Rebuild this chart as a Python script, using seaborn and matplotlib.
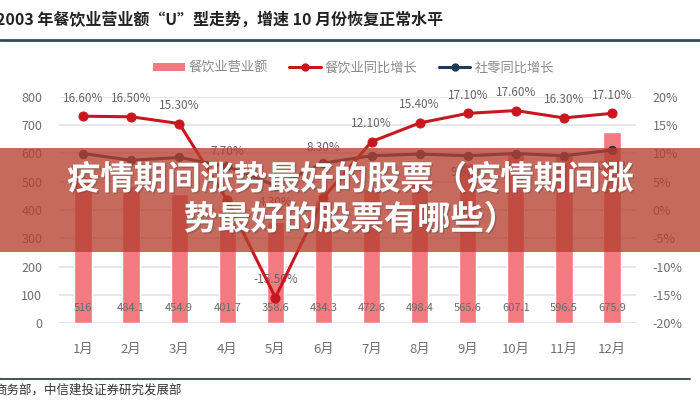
"""
2003 年餐饮业营业额与同比增速（柱 + 双折线），带横幅标题。
"""

import matplotlib
matplotlib.use("Agg")

import numpy as np
import matplotlib.pyplot as plt
import seaborn as sns
from matplotlib.lines import Line2D
from matplotlib.patches import Patch, Rectangle
from matplotlib import patheffects as pe

# ── 数据 ──────────────────────────────────────────────────────────
months = ["1月", "2月", "3月", "4月", "5月", "6月",
          "7月", "8月", "9月", "10月", "11月", "12月"]
revenue = [516, 484.1, 454.9, 401.7, 358.6, 434.3,
           472.6, 498.4, 565.6, 607.1, 596.5, 675.9]
food_growth = [16.6, 16.5, 15.3, 1.7, -15.5, 2.2,
               12.1, 15.4, 17.1, 17.6, 16.3, 17.1]
retail_growth = [10.0, 8.8, 9.3, 7.7, 4.3, 8.3,
                 9.6, 9.9, 9.6, 10.0, 9.6, 10.6]
# 被横幅遮住的标签不标
food_labels = ["16.60%", "16.50%", "15.30%", "", "-15.50%", "",
               "12.10%", "15.40%", "17.10%", "17.60%", "16.30%", "17.10%"]
retail_labels = ["", "", "", "7.70%", "4.30%", "8.30%",
                 "", "", "9.60%", "", "", "10.60%"]
retail_below = [False, False, False, False, True, False,
                False, False, True, False, False, True]

# ── 样式 ──────────────────────────────────────────────────────────
BAR = "#f47a82"
RED = "#c8171f"
NAVY = "#1f3a57"
GREY = "#6f6f6f"

sns.set_style("white")
plt.rcParams["font.family"] = ["Noto Sans CJK SC", "DejaVu Sans"]
plt.rcParams["axes.unicode_minus"] = False

fig = plt.figure(figsize=(7, 4), dpi=100)
fig.patch.set_facecolor("white")
ax = fig.add_axes([59 / 700, 77 / 400, 577 / 700, 226 / 400])

# 柱
sns.barplot(x=months, y=revenue, color=BAR, width=0.36, ax=ax,
            saturation=1, zorder=2)
ax.set_ylim(0, 800)
ax.set_xlim(-0.5, len(months) - 0.5)
ax.set_yticks(np.arange(0, 801, 100))
ax.yaxis.grid(True, color="#e3e3e3", linewidth=1.2, zorder=0)
ax.set_axisbelow(True)
ax.set_xlabel("")
ax.set_ylabel("")
ax.tick_params(axis="y", length=0, pad=12, labelsize=9, labelcolor=GREY)
ax.tick_params(axis="x", length=0, pad=14, labelsize=9.5, labelcolor=GREY)
for s in ax.spines.values():
    s.set_visible(False)

for i, v in enumerate(revenue):
    ax.text(i, 52, f"{v:g}", ha="center", va="center", fontsize=8,
            color="#6a6a6a", zorder=3)

# 折线（右轴）
ax2 = ax.twinx()
x_pos = np.arange(len(months))
sns.lineplot(x=x_pos, y=retail_growth, ax=ax2, color=NAVY, linewidth=2.2,
             marker="o", markersize=6, markeredgecolor=NAVY, zorder=3)
sns.lineplot(x=x_pos, y=food_growth, ax=ax2, color=RED, linewidth=2.2,
             marker="o", markersize=6.5, markeredgecolor=RED, zorder=4)
ax2.set_ylim(-20, 20)
ax2.set_yticks(np.arange(-20, 21, 5))
ax2.set_yticklabels([f"{t}%" for t in range(-20, 21, 5)])
ax2.tick_params(axis="y", length=0, pad=12, labelsize=9, labelcolor=GREY)
ax2.set_ylabel("")
for s in ax2.spines.values():
    s.set_visible(False)

for i, (v, lab) in enumerate(zip(food_growth, food_labels)):
    if lab:
        ax2.annotate(lab, (i, v), xytext=(0, 13), textcoords="offset points",
                     ha="center", va="center", fontsize=8.5, color="#666666")
for i, (v, lab, below) in enumerate(zip(retail_growth, retail_labels, retail_below)):
    if lab:
        dy = -12 if below else 11
        ax2.annotate(lab, (i, v), xytext=(0, dy), textcoords="offset points",
                     ha="center", va="center", fontsize=8.5, color="#666666")

# 图例
handles = [
    Patch(facecolor=BAR, edgecolor="none"),
    Line2D([], [], color=RED, linewidth=2.2, marker="o", markersize=5),
    Line2D([], [], color=NAVY, linewidth=2.2, marker="o", markersize=5),
]
fig.legend(handles, ["餐饮业营业额", "餐饮业同比增长", "社零同比增长"],
           loc="center", bbox_to_anchor=(0.505, 0.83), ncol=3, frameon=False,
           fontsize=9.5, labelcolor="#8a8a8a", handlelength=2.4,
           handleheight=0.6, columnspacing=1.6, handletextpad=0.3)

# 顶部标题与横线
fig.text(-0.006, 0.951, "2003 年餐饮业营业额“U”型走势，增速 10 月份恢复正常水平",
         ha="left", va="center", fontsize=11.5, fontweight="bold", color="#222222")
fig.add_artist(Line2D([0, 1], [0.9, 0.9], color="#34495a", linewidth=2,
                      transform=fig.transFigure))

# 底部来源
fig.add_artist(Line2D([0, 0.985], [0.053, 0.053], color="#4a5560", linewidth=1.5,
                      transform=fig.transFigure))
fig.text(-0.008, 0.026, "商务部，中信建投证券研究发展部", ha="left", va="center",
         fontsize=9, color="#333333", style="italic")

# 横幅
fig.add_artist(Rectangle((0, 148 / 400), 1, 104 / 400, transform=fig.transFigure,
                         facecolor="#b5402f", alpha=0.78, edgecolor="none",
                         zorder=10))
shadow = [pe.withSimplePatchShadow(offset=(1, -1), alpha=0.35)]
fig.text(0.501, 1 - 180 / 400, "疫情期间涨势最好的股票（疫情期间涨", ha="center",
         va="center", fontsize=24, fontweight="bold", color="white",
         zorder=11, path_effects=shadow)
fig.text(0.501, 1 - 220 / 400, "势最好的股票有哪些）", ha="center",
         va="center", fontsize=24, fontweight="bold", color="white",
         zorder=11, path_effects=shadow)

fig.savefig("out.png", dpi=100, facecolor="white")
plt.close(fig)
